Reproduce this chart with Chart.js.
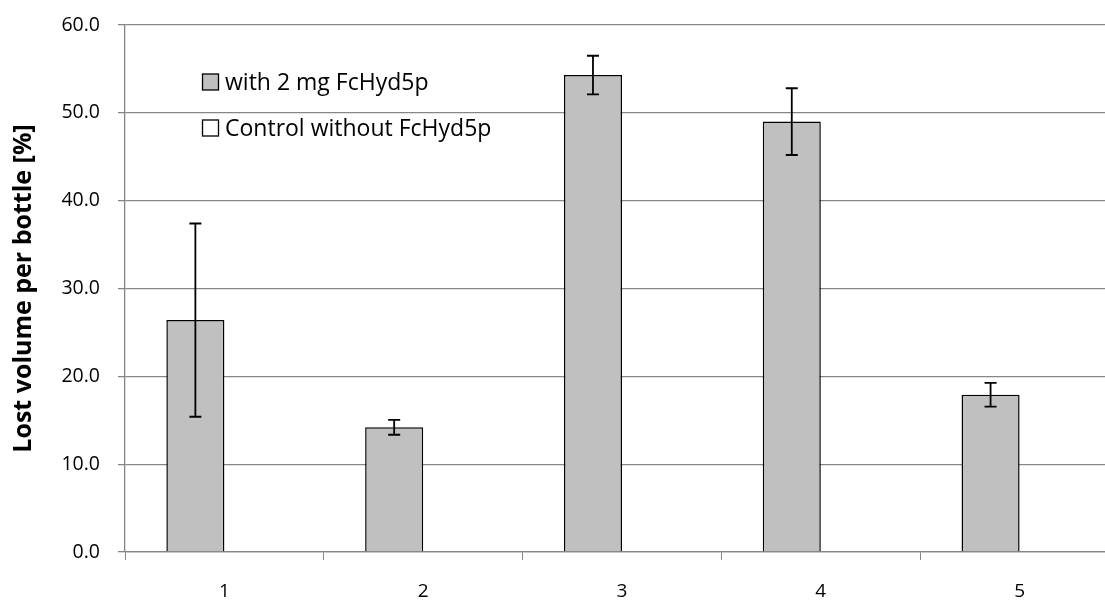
<!DOCTYPE html>
<html>
<head>
<meta charset="utf-8">
<title>Lost volume per bottle</title>
<script src="https://cdn.jsdelivr.net/npm/chart.js@4.4.1/dist/chart.umd.min.js"></script>
<style>
    html, body { margin: 0; padding: 0; background: #fff; overflow: hidden; }
    #wrap { position: relative; width: 1125px; height: 600px; }
</style>
</head>
<body>
<div id="wrap"><canvas id="lossChart"></canvas></div>
<script>
// ----------------------
//  DATA
// ----------------------
const categories = ['1', '2', '3', '4', '5'];
const withEnzyme = [26.4, 14.2, 54.3, 49.0, 17.9];
const withEnzymeErr = [11.0, 0.85, 2.2, 3.8, 1.35];
const control = [null, null, null, null, null];
const seriesLabels = ['with 2 mg FcHyd5p', 'Control without FcHyd5p'];
const yTicks = [0, 10, 20, 30, 40, 50, 60];

const gridGrey = '#868686';
const fontFamily = '"Open Sans", Lato, sans-serif';

// ----------------------
//  ERROR BARS
// ----------------------
const errorBars = {
    id: 'errorBars',
    afterDatasetsDraw(chart) {
        const ctx = chart.ctx;
        const yScale = chart.scales.y;
        const meta = chart.getDatasetMeta(0);
        ctx.save();
        ctx.strokeStyle = '#000';
        ctx.lineWidth = 1.8;
        meta.data.forEach((bar, i) => {
            const v = withEnzyme[i];
            const e = withEnzymeErr[i];
            const x = bar.x;
            const yTop = yScale.getPixelForValue(v + e);
            const yBot = yScale.getPixelForValue(v - e);
            ctx.beginPath();
            ctx.moveTo(x, yTop);
            ctx.lineTo(x, yBot);
            ctx.moveTo(x - 6, yTop);
            ctx.lineTo(x + 6, yTop);
            ctx.moveTo(x - 6, yBot);
            ctx.lineTo(x + 6, yBot);
            ctx.stroke();
        });
        ctx.restore();
    }
};

// ----------------------
//  LEGEND INSIDE PLOT
// ----------------------
const innerLegend = {
    id: 'innerLegend',
    afterDraw(chart) {
        const ctx = chart.ctx;
        ctx.save();
        ctx.font = '23px ' + fontFamily;
        ctx.textBaseline = 'middle';
        chart.data.datasets.forEach((ds, i) => {
            const cy = 82 + i * 46;
            ctx.fillStyle = ds.backgroundColor;
            ctx.fillRect(202.5, cy - 8, 16, 16);
            ctx.strokeStyle = '#000';
            ctx.lineWidth = 1.3;
            ctx.strokeRect(202.5, cy - 8, 16, 16);
            ctx.fillStyle = '#000';
            ctx.fillText(ds.label, 225, cy + 1);
        });
        ctx.restore();
    }
};

// ----------------------
//  CHART
// ----------------------
const ctx = document.getElementById('lossChart').getContext('2d');
const lossChart = new Chart(ctx, {
    type: 'bar',
    data: {
        labels: categories,
        datasets: [{
            label: seriesLabels[0],
            data: withEnzyme,
            backgroundColor: '#c0c0c0',
            borderColor: '#000',
            borderWidth: 1.5,
        }, {
            label: seriesLabels[1],
            data: control,
            backgroundColor: '#ffffff',
            borderColor: '#000',
            borderWidth: 1.5,
        }]
    },
    options: {
        responsive: true,
        maintainAspectRatio: false,
        animation: false,
        layout: { padding: { top: 25, right: 6, bottom: 0, left: 0 } },
        datasets: {
            bar: { barPercentage: 1, categoryPercentage: 0.584 }
        },
        plugins: {
            legend: { display: false },
            tooltip: { enabled: false },
        },
        scales: {
            x: {
                afterFit: scale => { scale.height = 48; },
                grid: {
                    offset: true,
                    drawOnChartArea: false,
                    drawTicks: true,
                    tickLength: 8,
                    color: gridGrey,
                },
                border: { color: gridGrey, width: 1.3 },
                ticks: {
                    color: '#000',
                    padding: 20,
                    font: { family: fontFamily, size: 19 },
                },
            },
            y: {
                min: 0,
                max: 60,
                afterFit: scale => {
                    scale.width = 125;
                    scale.paddingTop = 0;
                    scale.paddingBottom = 0;
                },
                afterBuildTicks: scale => {
                    scale.ticks = yTicks.map(v => ({ value: v }));
                },
                grid: {
                    color: gridGrey,
                    lineWidth: 1.3,
                    tickLength: 7,
                },
                border: { color: gridGrey, width: 1.3 },
                ticks: {
                    color: '#000',
                    padding: 18,
                    font: { family: fontFamily, size: 19.5 },
                    callback: value => value.toFixed(1),
                },
                title: {
                    display: true,
                    text: 'Lost volume per bottle [%]',
                    color: '#000',
                    padding: { top: 9, bottom: 0 },
                    font: { family: fontFamily, size: 25, weight: 'bold' },
                },
            }
        }
    },
    plugins: [errorBars, innerLegend],
});
</script>
</body>
</html>
